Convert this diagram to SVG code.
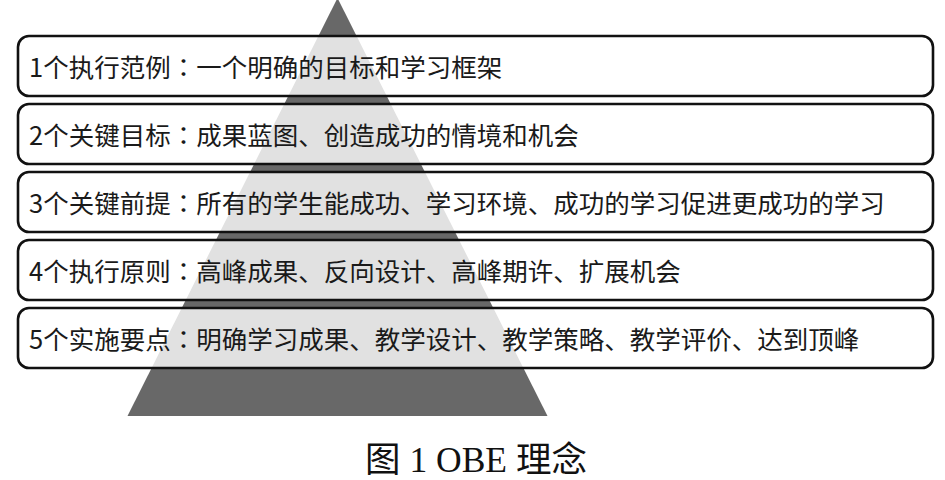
<svg xmlns="http://www.w3.org/2000/svg" width="945" height="480" viewBox="0 0 945 480">
  <style>
    .box { fill: #ffffff; fill-opacity: 0.8; stroke: #111111; stroke-width: 2.6; }
    .label { font-family: "Noto Sans CJK SC", "Noto Sans", sans-serif; font-size: 25.5px; fill: #1a1a1a; }
    .colon { font-family: "Noto Sans CJK TC", "Noto Sans CJK SC", sans-serif; }
    .caption { font-family: "Liberation Serif", "Noto Sans CJK SC", serif; font-size: 35.5px; fill: #111111; }
  </style>
  <rect x="0" y="0" width="945" height="480" fill="#ffffff"/>
  <g id="pyramid">
    <polygon points="337.5,-2 547.5,416 127.5,416" fill="#686868"/>
  </g>
  <g id="connectors"></g>
  <g id="level1">
    <rect class="box" x="18" y="36" width="915" height="60" rx="11" ry="11"/>
    <text class="label" x="29" y="77">1个执行范例<tspan class="colon">：</tspan>一个明确的目标和学习框架</text>
  </g>
  <g id="level2">
    <rect class="box" x="18" y="104" width="915" height="60" rx="11" ry="11"/>
    <text class="label" x="29" y="145">2个关键目标<tspan class="colon">：</tspan>成果蓝图、创造成功的情境和机会</text>
  </g>
  <g id="level3">
    <rect class="box" x="18" y="172" width="915" height="60" rx="11" ry="11"/>
    <text class="label" x="29" y="213">3个关键前提<tspan class="colon">：</tspan>所有的学生能成功、学习环境、成功的学习促进更成功的学习</text>
  </g>
  <g id="level4">
    <rect class="box" x="18" y="240" width="915" height="60" rx="11" ry="11"/>
    <text class="label" x="29" y="281">4个执行原则<tspan class="colon">：</tspan>高峰成果、反向设计、高峰期许、扩展机会</text>
  </g>
  <g id="level5">
    <rect class="box" x="18" y="308" width="915" height="60" rx="11" ry="11"/>
    <text class="label" x="29" y="349">5个实施要点<tspan class="colon">：</tspan>明确学习成果、教学设计、教学策略、教学评价、达到顶峰</text>
  </g>
  <g id="caption">
    <text class="caption" x="476" y="472" text-anchor="middle">图 1 OBE 理念</text>
  </g>
</svg>
